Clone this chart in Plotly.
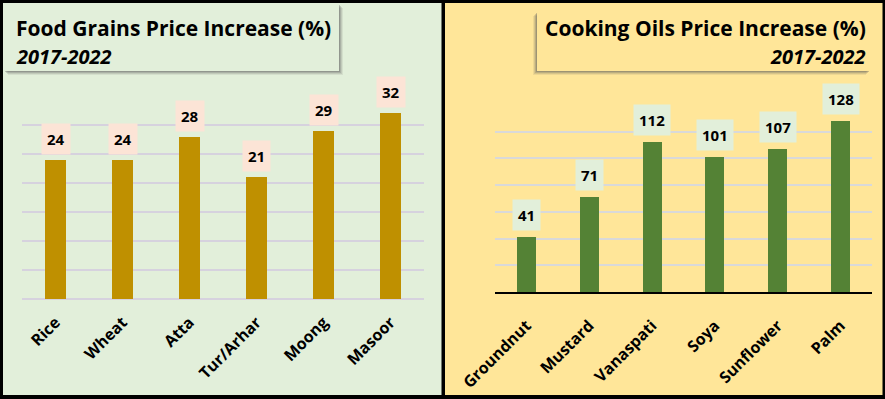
import plotly.graph_objects as go

W, H = 885, 399

grain_names = ["Rice", "Wheat", "Atta", "Tur/Arhar", "Moong", "Masoor"]
grain_values = [24, 24, 28, 21, 29, 32]
oil_names = ["Groundnut", "Mustard", "Vanaspati", "Soya", "Sunflower", "Palm"]
oil_values = [41, 71, 112, 101, 107, 128]

left_title = "Food Grains Price Increase (%)"
right_title = "Cooking Oils Price Increase (%)"
period = "2017-2022"

FONT = "Open Sans"
GREEN_BG = "#E2EFDA"
YELLOW_BG = "#FFE699"
GOLD = "#BF9000"
OLIVE = "#548235"


def px(x):
    return x / W


def py(y):
    return 1 - y / H


fig = go.Figure()
fig.add_trace(go.Bar(x=grain_names, y=grain_values, marker_color=GOLD,
                     marker_line_width=0, width=0.31, xaxis="x", yaxis="y",
                     hoverinfo="skip"))
fig.add_trace(go.Bar(x=oil_names, y=oil_values, marker_color=OLIVE,
                     marker_line_width=0, width=0.30, xaxis="x2", yaxis="y2",
                     hoverinfo="skip"))

shapes = []
shapes.append(dict(type="rect", xref="paper", yref="paper", layer="below",
                   x0=px(3), x1=px(441.5), y0=py(395), y1=py(3),
                   fillcolor=GREEN_BG, line_width=0))
shapes.append(dict(type="rect", xref="paper", yref="paper", layer="below",
                   x0=px(445), x1=px(882.5), y0=py(395), y1=py(3),
                   fillcolor=YELLOW_BG, line_width=0))


def box_with_shadow(x0, y0, x1, y1, dx, dy, fill):
    out = []
    for i, op in enumerate([0.10, 0.15, 0.22, 0.30]):
        k = (4 - i) / 4.0
        out.append(dict(type="rect", xref="paper", yref="paper", layer="below",
                        x0=px(x0 + dx * k), x1=px(x1 + dx * k),
                        y0=py(y1 + dy * k), y1=py(y0 + dy * k),
                        fillcolor="rgba(90,90,90,%.2f)" % op, line_width=0))
    out.append(dict(type="rect", xref="paper", yref="paper", layer="below",
                    x0=px(x0), x1=px(x1), y0=py(y1), y1=py(y0),
                    fillcolor=fill, line_width=0))
    return out


shapes += box_with_shadow(4, 4, 339, 71, 4, 4, GREEN_BG)
shapes += box_with_shadow(537, 12, 870, 71, -4, 4, YELLOW_BG)

annotations = []
annotations.append(dict(text="<b>%s</b>" % left_title, xref="paper", yref="paper",
                        x=px(14), y=py(28), xanchor="left", yanchor="middle",
                        showarrow=False, font=dict(family=FONT, size=21, color="black")))
annotations.append(dict(text="<b><i>%s</i></b>" % period, xref="paper", yref="paper",
                        x=px(14), y=py(56), xanchor="left", yanchor="middle",
                        showarrow=False, font=dict(family=FONT, size=20, color="black")))
annotations.append(dict(text="<b>%s</b>" % right_title, xref="paper", yref="paper",
                        x=px(868), y=py(28), xanchor="right", yanchor="middle",
                        showarrow=False, font=dict(family=FONT, size=21, color="black")))
annotations.append(dict(text="<b><i>%s</i></b>" % period, xref="paper", yref="paper",
                        x=px(868), y=py(56), xanchor="right", yanchor="middle",
                        showarrow=False, font=dict(family=FONT, size=20, color="black")))

for n, v in zip(grain_names, grain_values):
    annotations.append(dict(text="<b>%d</b>" % v, x=n, y=v, xref="x", yref="y",
                            xanchor="center", yanchor="bottom", yshift=5,
                            showarrow=False, bgcolor="#FCE4D6", borderpad=5,
                            font=dict(family=FONT, size=15, color="black")))
for n, v in zip(oil_names, oil_values):
    annotations.append(dict(text="<b>%d</b>" % v, x=n, y=v, xref="x2", yref="y2",
                            xanchor="center", yanchor="bottom", yshift=6,
                            showarrow=False, bgcolor=GREEN_BG, borderpad=5,
                            font=dict(family=FONT, size=15, color="black")))

tickfont = dict(family=FONT, size=16, color="black")

fig.update_layout(
    width=W, height=H,
    margin=dict(l=0, r=0, t=0, b=0, autoexpand=False),
    paper_bgcolor="black",
    plot_bgcolor="rgba(0,0,0,0)",
    showlegend=False,
    bargap=0,
    shapes=shapes,
    annotations=annotations,
    xaxis=dict(domain=[px(22), px(424)], anchor="y", tickangle=-45,
               tickfont=tickfont, showgrid=False, showline=False,
               ticklabelstandoff=10, automargin=False,
               tickprefix="<b>", ticksuffix="</b>", fixedrange=True),
    yaxis=dict(domain=[py(299), py(96)], anchor="x", range=[0, 35], dtick=5,
               showticklabels=False, showgrid=True, gridcolor="#D6D2DE",
               gridwidth=1.5, zeroline=True, zerolinecolor="#D6D2DE",
               zerolinewidth=1.5, fixedrange=True, automargin=False),
    xaxis2=dict(domain=[px(495), px(872)], anchor="y2", tickangle=-45,
                tickfont=tickfont, showgrid=False, showline=True,
                linecolor="black", linewidth=2, ticklabelstandoff=16,
                automargin=False,
                tickprefix="<b>", ticksuffix="</b>", fixedrange=True),
    yaxis2=dict(domain=[py(292), py(105)], anchor="x2", range=[0, 140], dtick=20,
                showticklabels=False, showgrid=True, gridcolor="#D9D9D9",
                gridwidth=1.5, zeroline=False, fixedrange=True, automargin=False),
)

fig.write_html("out.html", config={"displayModeBar": False},
               post_script="document.body.style.margin='0';"
                           "document.body.style.overflow='hidden';")
